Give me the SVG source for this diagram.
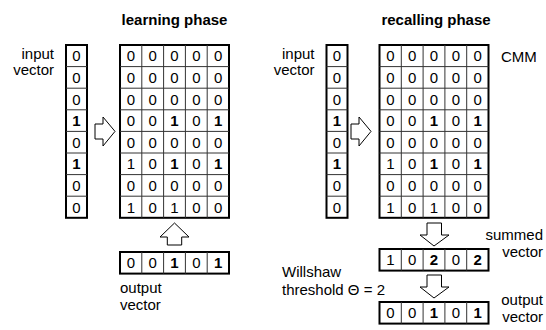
<svg xmlns="http://www.w3.org/2000/svg" width="546" height="330" viewBox="0 0 546 330">
<style>
text{font-family:"Liberation Sans",Arial,sans-serif;fill:#000}
.t{font-size:15px;font-weight:bold;text-anchor:middle}
.l{font-size:15px}
.e{text-anchor:end}
.d{font-size:15px;text-anchor:middle}
.b{font-weight:bold}
.box{fill:#fff;stroke:#000;stroke-width:2}
.grid{fill:none;stroke:#333;stroke-width:1}
.arr{fill:#fff;stroke:#000;stroke-width:1;stroke-linejoin:miter}
</style>
<rect width="546" height="330" fill="#fff"/>
<text class="t" x="174.5" y="25">learning phase</text>
<text class="t" x="436" y="25">recalling phase</text>

<g id="learn-input-vector">
<text class="l e" x="54" y="58.5">input</text>
<text class="l e" x="54" y="75">vector</text>
<rect class="box" x="66" y="45" width="21" height="172.8"/>
<path class="grid" d="M66 66.6H87M66 88.2H87M66 109.8H87M66 131.4H87M66 153H87M66 174.6H87M66 196.2H87"/>
<g class="d">
<text x="76.5" y="61.3">0</text><text x="76.5" y="82.9">0</text><text x="76.5" y="104.5">0</text><text class="b" x="76.5" y="126.1">1</text><text x="76.5" y="147.7">0</text><text class="b" x="76.5" y="169.3">1</text><text x="76.5" y="190.9">0</text><text x="76.5" y="212.5">0</text>
</g>
</g>

<g id="learn-matrix">
<rect class="box" x="120" y="45" width="109" height="172.8"/>
<path class="grid" d="M120 66.6H229M120 88.2H229M120 109.8H229M120 131.4H229M120 153H229M120 174.6H229M120 196.2H229M141.8 45V217.8M163.6 45V217.8M185.4 45V217.8M207.2 45V217.8"/>
<g class="d">
<text x="130.9" y="61.3">0</text><text x="152.7" y="61.3">0</text><text x="174.5" y="61.3">0</text><text x="196.3" y="61.3">0</text><text x="218.1" y="61.3">0</text>
<text x="130.9" y="82.9">0</text><text x="152.7" y="82.9">0</text><text x="174.5" y="82.9">0</text><text x="196.3" y="82.9">0</text><text x="218.1" y="82.9">0</text>
<text x="130.9" y="104.5">0</text><text x="152.7" y="104.5">0</text><text x="174.5" y="104.5">0</text><text x="196.3" y="104.5">0</text><text x="218.1" y="104.5">0</text>
<text x="130.9" y="126.1">0</text><text x="152.7" y="126.1">0</text><text class="b" x="174.5" y="126.1">1</text><text x="196.3" y="126.1">0</text><text class="b" x="218.1" y="126.1">1</text>
<text x="130.9" y="147.7">0</text><text x="152.7" y="147.7">0</text><text x="174.5" y="147.7">0</text><text x="196.3" y="147.7">0</text><text x="218.1" y="147.7">0</text>
<text x="130.9" y="169.3">1</text><text x="152.7" y="169.3">0</text><text class="b" x="174.5" y="169.3">1</text><text x="196.3" y="169.3">0</text><text class="b" x="218.1" y="169.3">1</text>
<text x="130.9" y="190.9">0</text><text x="152.7" y="190.9">0</text><text x="174.5" y="190.9">0</text><text x="196.3" y="190.9">0</text><text x="218.1" y="190.9">0</text>
<text x="130.9" y="212.5">1</text><text x="152.7" y="212.5">0</text><text x="174.5" y="212.5">1</text><text x="196.3" y="212.5">0</text><text x="218.1" y="212.5">0</text>
</g>
</g>

<g id="learn-output-vector">
<rect class="box" x="120" y="252" width="109" height="21.6"/>
<path class="grid" d="M141.8 252V273.6M163.6 252V273.6M185.4 252V273.6M207.2 252V273.6"/>
<g class="d">
<text x="130.9" y="268.3">0</text><text x="152.7" y="268.3">0</text><text class="b" x="174.5" y="268.3">1</text><text x="196.3" y="268.3">0</text><text class="b" x="218.1" y="268.3">1</text>
</g>
<text class="l" x="120" y="293">output</text>
<text class="l" x="120" y="310">vector</text>
</g>

<g id="recall-input-vector">
<text class="l e" x="314.5" y="58.5">input</text>
<text class="l e" x="314.5" y="75">vector</text>
<rect class="box" x="326.5" y="45" width="21" height="172.8"/>
<path class="grid" d="M326.5 66.6H347.5M326.5 88.2H347.5M326.5 109.8H347.5M326.5 131.4H347.5M326.5 153H347.5M326.5 174.6H347.5M326.5 196.2H347.5"/>
<g class="d">
<text x="337" y="61.3">0</text><text x="337" y="82.9">0</text><text x="337" y="104.5">0</text><text class="b" x="337" y="126.1">1</text><text x="337" y="147.7">0</text><text class="b" x="337" y="169.3">1</text><text x="337" y="190.9">0</text><text x="337" y="212.5">0</text>
</g>
</g>

<g id="recall-matrix">
<text class="l" x="501" y="62">CMM</text>
<rect class="box" x="379.5" y="45" width="109" height="172.8"/>
<path class="grid" d="M379.5 66.6H488.5M379.5 88.2H488.5M379.5 109.8H488.5M379.5 131.4H488.5M379.5 153H488.5M379.5 174.6H488.5M379.5 196.2H488.5M401.3 45V217.8M423.1 45V217.8M444.9 45V217.8M466.7 45V217.8"/>
<g class="d">
<text x="390.4" y="61.3">0</text><text x="412.2" y="61.3">0</text><text x="434" y="61.3">0</text><text x="455.8" y="61.3">0</text><text x="477.6" y="61.3">0</text>
<text x="390.4" y="82.9">0</text><text x="412.2" y="82.9">0</text><text x="434" y="82.9">0</text><text x="455.8" y="82.9">0</text><text x="477.6" y="82.9">0</text>
<text x="390.4" y="104.5">0</text><text x="412.2" y="104.5">0</text><text x="434" y="104.5">0</text><text x="455.8" y="104.5">0</text><text x="477.6" y="104.5">0</text>
<text x="390.4" y="126.1">0</text><text x="412.2" y="126.1">0</text><text class="b" x="434" y="126.1">1</text><text x="455.8" y="126.1">0</text><text class="b" x="477.6" y="126.1">1</text>
<text x="390.4" y="147.7">0</text><text x="412.2" y="147.7">0</text><text x="434" y="147.7">0</text><text x="455.8" y="147.7">0</text><text x="477.6" y="147.7">0</text>
<text x="390.4" y="169.3">1</text><text x="412.2" y="169.3">0</text><text class="b" x="434" y="169.3">1</text><text x="455.8" y="169.3">0</text><text class="b" x="477.6" y="169.3">1</text>
<text x="390.4" y="190.9">0</text><text x="412.2" y="190.9">0</text><text x="434" y="190.9">0</text><text x="455.8" y="190.9">0</text><text x="477.6" y="190.9">0</text>
<text x="390.4" y="212.5">1</text><text x="412.2" y="212.5">0</text><text x="434" y="212.5">1</text><text x="455.8" y="212.5">0</text><text x="477.6" y="212.5">0</text>
</g>
</g>

<g id="summed-vector">
<rect class="box" x="379.5" y="249" width="109" height="21.6"/>
<path class="grid" d="M401.3 249V270.6M423.1 249V270.6M444.9 249V270.6M466.7 249V270.6"/>
<g class="d">
<text x="390.4" y="265.3">1</text><text x="412.2" y="265.3">0</text><text class="b" x="434" y="265.3">2</text><text x="455.8" y="265.3">0</text><text class="b" x="477.6" y="265.3">2</text>
</g>
<text class="l e" x="543" y="240">summed</text>
<text class="l e" x="543" y="257">vector</text>
</g>

<g id="threshold-label">
<text class="l" x="282" y="277">Willshaw</text>
<text class="l" x="282" y="295">threshold Θ = 2</text>
</g>

<g id="recall-output-vector">
<rect class="box" x="379.5" y="302" width="109" height="21.6"/>
<path class="grid" d="M401.3 302V323.6M423.1 302V323.6M444.9 302V323.6M466.7 302V323.6"/>
<g class="d">
<text x="390.4" y="318.3">0</text><text x="412.2" y="318.3">0</text><text class="b" x="434" y="318.3">1</text><text x="455.8" y="318.3">0</text><text class="b" x="477.6" y="318.3">1</text>
</g>
<text class="l e" x="543" y="305">output</text>
<text class="l e" x="543" y="322">vector</text>
</g>

<g id="connectors">
<path class="arr" d="M95 124H103V117L115 131.4L103 146V139H95Z"/>
<path class="arr" d="M351 124H359V117L371 131.4L359 146V139H351Z"/>
<path class="arr" d="M167.3 245V237H160L174.5 223L189 237H181.7V245Z"/>
<path class="arr" d="M427 223V235H420L434 246L449 235H441.5V223Z"/>
<path class="arr" d="M427 275V287H420L434 298L449 287H441.5V275Z"/>
</g>
</svg>
